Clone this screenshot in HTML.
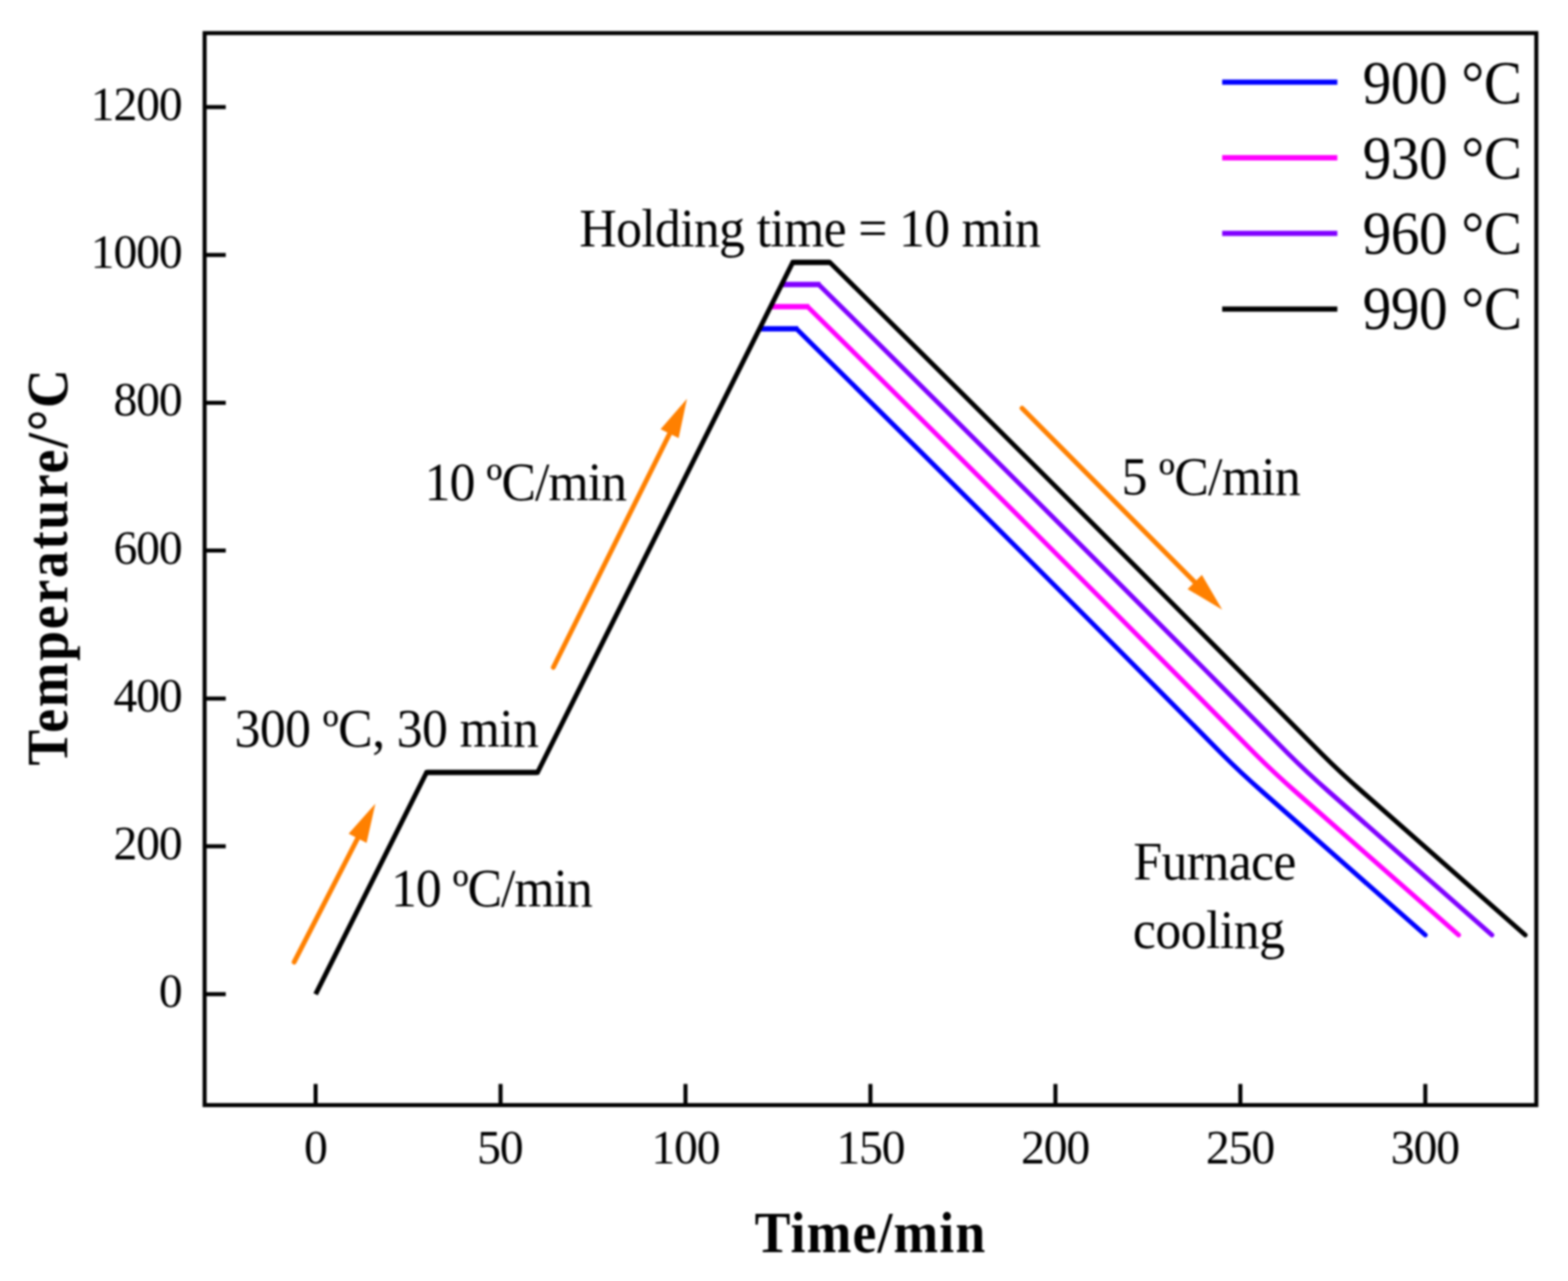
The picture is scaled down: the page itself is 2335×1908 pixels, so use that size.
<!DOCTYPE html>
<html lang="en"><head><meta charset="utf-8"><title>Temperature/Time sintering profile</title>
<style>
html,body{margin:0;padding:0;background:#fff;}
body{width:2335px;height:1908px;overflow:hidden;}
svg{display:block;filter:blur(1.5px);}
text{font-family:"Liberation Serif", serif;fill:#000;white-space:pre;}
.tk{font-size:71px;}
.an{font-size:79.5px;}
.lg{font-size:92px;}
.ax{font-size:86px;font-weight:bold;}
.ln{fill:none;}
</style></head><body>
<svg width="2335" height="1908" viewBox="0 0 2335 1908">
<rect x="-10" y="-10" width="2355" height="1928" fill="#fff"/>
<g>
<path class="ln" stroke="#0000ff" stroke-width="7.0" stroke-linecap="round" stroke-linejoin="round" d="M1186.1,489.8 Q1504.9,804.2 1819.6,1122.9 Q1847.1,1150.5 1880.2,1179.5 L2122.5,1392.7"/>
<path class="ln" stroke="#0000ff" stroke-width="8.0" d="M1131.0,489.8 L1188.6,489.8"/>
<path class="ln" stroke="#ff00ff" stroke-width="7.0" stroke-linecap="round" stroke-linejoin="round" d="M1202.6,456.7 Q1538.0,787.7 1869.1,1122.9 Q1896.7,1150.5 1929.7,1179.5 L2172.1,1392.7"/>
<path class="ln" stroke="#ff00ff" stroke-width="8.0" d="M1147.5,456.7 L1205.1,456.7"/>
<path class="ln" stroke="#8000ff" stroke-width="7.0" stroke-linecap="round" stroke-linejoin="round" d="M1219.1,423.7 Q1571.0,771.2 1918.7,1122.9 Q1946.3,1150.5 1979.3,1179.5 L2221.7,1392.7"/>
<path class="ln" stroke="#8000ff" stroke-width="8.0" d="M1164.0,423.7 L1221.6,423.7"/>
<path class="ln" stroke="#000" stroke-width="7.0" stroke-linecap="round" stroke-linejoin="round" d="M1235.7,390.7 Q1604.1,754.7 1968.3,1122.9 Q1995.8,1150.5 2028.9,1179.5 L2271.3,1392.7"/>
<path class="ln" stroke="#000" stroke-width="7.2" d="M470.0,1480.8 L635.2,1150.5 L800.5,1150.5 L1180.6,390.7 L1235.7,390.7"/>
<path class="ln" stroke="#000" stroke-width="8.0" d="M635.2,1150.5 L800.5,1150.5 M1180.6,390.7 L1235.7,390.7"/>
</g>
<rect x="304.7" y="49.3" width="1983.1" height="1596.7" fill="none" stroke="#000" stroke-width="6.0"/>
<g stroke="#000" stroke-width="6.0">
<line x1="304.7" y1="1480.8" x2="336.2" y2="1480.8"/>
<line x1="304.7" y1="1260.6" x2="336.2" y2="1260.6"/>
<line x1="304.7" y1="1040.4" x2="336.2" y2="1040.4"/>
<line x1="304.7" y1="820.1" x2="336.2" y2="820.1"/>
<line x1="304.7" y1="599.9" x2="336.2" y2="599.9"/>
<line x1="304.7" y1="379.7" x2="336.2" y2="379.7"/>
<line x1="304.7" y1="159.4" x2="336.2" y2="159.4"/>
<line x1="470.0" y1="1646.0" x2="470.0" y2="1614.5"/>
<line x1="745.4" y1="1646.0" x2="745.4" y2="1614.5"/>
<line x1="1020.8" y1="1646.0" x2="1020.8" y2="1614.5"/>
<line x1="1296.2" y1="1646.0" x2="1296.2" y2="1614.5"/>
<line x1="1571.7" y1="1646.0" x2="1571.7" y2="1614.5"/>
<line x1="1847.1" y1="1646.0" x2="1847.1" y2="1614.5"/>
<line x1="2122.5" y1="1646.0" x2="2122.5" y2="1614.5"/>
</g>
<g class="tk">
<text transform="translate(236.5,1500.3)" letter-spacing="0.00">0</text>
<text transform="translate(168.9,1280.1)" letter-spacing="-1.70">200</text>
<text transform="translate(168.9,1059.9)" letter-spacing="-1.70">400</text>
<text transform="translate(168.9,839.6)" letter-spacing="-1.70">600</text>
<text transform="translate(168.9,619.4)" letter-spacing="-1.70">800</text>
<text transform="translate(135.1,399.2)" letter-spacing="-1.70">1000</text>
<text transform="translate(135.1,178.9)" letter-spacing="-1.70">1200</text>
<text transform="translate(452.7,1733.3)" letter-spacing="0.00">0</text>
<text transform="translate(710.5,1733.3)" letter-spacing="-1.70">50</text>
<text transform="translate(970.0,1733.3)" letter-spacing="-1.70">100</text>
<text transform="translate(1245.4,1733.3)" letter-spacing="-1.70">150</text>
<text transform="translate(1520.4,1733.3)" letter-spacing="-1.70">200</text>
<text transform="translate(1795.8,1733.3)" letter-spacing="-1.70">250</text>
<text transform="translate(2071.1,1733.3)" letter-spacing="-1.70">300</text>
</g>
<text class="ax" transform="translate(1123.8,1865.0) scale(0.93,1)" letter-spacing="1.79">Time/min</text>
<text class="ax" transform="translate(100.0,1140.2) rotate(-90) scale(0.93,1)" letter-spacing="2.82">Temperature/°C</text>
<line x1="1820" y1="122.3" x2="1991.5" y2="122.3" stroke="#0000ff" stroke-width="7.8"/>
<text class="lg" transform="translate(2029.2,154.1) scale(0.925,1)" letter-spacing="-0.50">900 °C</text>
<line x1="1820" y1="235.0" x2="1991.5" y2="235.0" stroke="#ff00ff" stroke-width="7.8"/>
<text class="lg" transform="translate(2029.2,266.1) scale(0.925,1)" letter-spacing="-0.50">930 °C</text>
<line x1="1820" y1="347.7" x2="1991.5" y2="347.7" stroke="#8000ff" stroke-width="7.8"/>
<text class="lg" transform="translate(2029.2,378.1) scale(0.925,1)" letter-spacing="-0.50">960 °C</text>
<line x1="1820" y1="460.4" x2="1991.5" y2="460.4" stroke="#000" stroke-width="7.8"/>
<text class="lg" transform="translate(2029.2,490.1) scale(0.925,1)" letter-spacing="-0.50">990 °C</text>
<g class="an">
<text transform="translate(862.7,366.5) scale(0.97,1)" letter-spacing="-1.03">Holding time = 10 min</text>
<text transform="translate(632.3,744.5) scale(0.97,1)" letter-spacing="-1.49">10 ºC/min</text>
<text transform="translate(349.3,1111.5) scale(0.97,1)" letter-spacing="-0.93">300 ºC, 30 min</text>
<text transform="translate(582.3,1349.5) scale(0.97,1)" letter-spacing="-1.63">10 ºC/min</text>
<text transform="translate(1670.2,736.5) scale(0.97,1)" letter-spacing="-1.11">5 ºC/min</text>
<text transform="translate(1687.7,1310.0) scale(0.97,1)" letter-spacing="-0.94">Furnace</text>
<text transform="translate(1687.1,1412.0) scale(0.97,1)" letter-spacing="-0.84">cooling</text>
</g>
<line x1="438.0" y1="1433.0" x2="534.4" y2="1245.1" stroke="#ff8000" stroke-width="7.2" stroke-linecap="round"/><polygon points="559.0,1197.0 545.9,1255.5 519.2,1241.8" fill="#ff8000"/>
<line x1="824.0" y1="994.0" x2="998.9" y2="642.3" stroke="#ff8000" stroke-width="7.2" stroke-linecap="round"/><polygon points="1023.0,594.0 1010.6,652.6 983.7,639.2" fill="#ff8000"/>
<line x1="1522.0" y1="608.0" x2="1781.9" y2="869.7" stroke="#ff8000" stroke-width="7.2" stroke-linecap="round"/><polygon points="1820.0,908.0 1768.5,877.4 1789.8,856.3" fill="#ff8000"/>
</svg></body></html>
